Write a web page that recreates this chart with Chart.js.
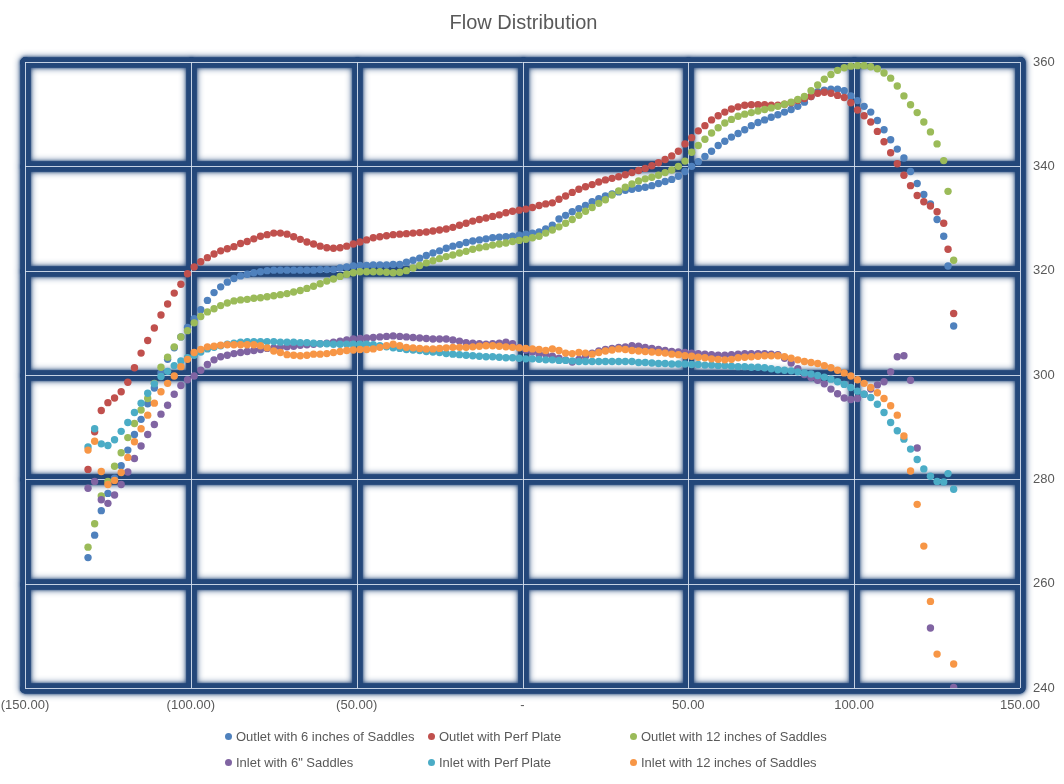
<!DOCTYPE html>
<html>
<head>
<meta charset="utf-8">
<script src="https://cdn.jsdelivr.net/npm/chart.js@4.4.0/dist/chart.umd.min.js"></script>
<style>
  body { margin: 0; background: #fff; }
  #wrap { position: relative; width: 1064px; height: 784px; background: #fff; font-family: "Liberation Sans", Arial, sans-serif; }
  #title { position: absolute; left: 0; top: 10px; width: 1064px; padding-right: 17px; box-sizing: border-box;
           text-align: center; font-size: 20px; line-height: 24px; color: #595959; }
  #legend { position: absolute; top: 723px; left: 225px; display: grid;
            grid-template-columns: 203px 202px 240px; grid-auto-rows: 26px; }
  .item { display: flex; align-items: center; font-size: 13px; color: #595959; white-space: nowrap; }
  .dot { width: 7px; height: 7px; border-radius: 50%; margin-right: 4px; flex: none; }
</style>
</head>
<body>
<div id="wrap">
  <canvas id="chart" width="1064" height="784"></canvas>
  <div id="title">Flow Distribution</div>
  <div id="legend"></div>
</div>
<script>
// positions along the duct (shared by every series)
const xValues = [
  -131,-129,-127,-125,-123,-121,-119,-117,-115,-113,
  -111,-109,-107,-105,-103,-101,-99,-97,-95,-93,
  -91,-89,-87,-85,-83,-81,-79,-77,-75,-73,
  -71,-69,-67,-65,-63,-61,-59,-57,-55,-53,
  -51,-49,-47,-45,-43,-41,-39,-37,-35,-33,
  -31,-29,-27,-25,-23,-21,-19,-17,-15,-13,
  -11,-9,-7,-5,-3,-1,1,3,5,7,
  9,11,13,15,17,19,21,23,25,27,
  29,31,33,35,37,39,41,43,45,47,
  49,51,53,55,57,59,61,63,65,67,
  69,71,73,75,77,79,81,83,85,87,
  89,91,93,95,97,99,101,103,105,107,
  109,111,113,115,117,119,121,123,125,127,
  128.3,130
];

const outlet6 = [
  265.0,269.3,274.0,277.3,280.2,282.6,285.6,288.6,291.5,294.5,
  297.5,300.4,303.0,305.2,307.3,309.1,310.8,312.5,314.3,315.8,
  316.9,317.8,318.5,319.0,319.3,319.6,319.8,320.0,320.1,320.1,
  320.1,320.1,320.1,320.1,320.1,320.2,320.2,320.2,320.5,320.7,
  320.9,321.0,321.0,321.1,321.1,321.1,321.2,321.2,321.6,322.0,
  322.4,322.9,323.4,323.8,324.3,324.7,325.0,325.4,325.7,325.9,
  326.1,326.3,326.4,326.5,326.6,326.8,327.0,327.2,327.4,328.0,
  328.7,329.9,330.6,331.3,331.9,332.5,333.2,333.8,334.3,334.7,
  335.1,335.4,335.6,335.8,336.0,336.3,336.7,337.1,337.5,338.1,
  339.0,340.0,340.9,341.9,342.9,344.0,344.8,345.6,346.3,347.0,
  347.8,348.4,348.9,349.4,349.9,350.4,350.9,351.5,352.3,353.4,
  354.3,354.6,354.8,354.8,354.5,353.5,352.6,351.5,350.4,348.8,
  347.0,345.1,343.3,341.6,339.0,336.7,334.6,332.8,329.8,326.6,
  320.9,309.4
];

const outletPerf = [
  281.9,289.1,293.2,294.7,295.6,296.8,298.6,301.4,304.2,306.6,
  309.0,311.5,313.6,315.7,317.4,319.4,320.7,321.7,322.5,323.2,
  323.8,324.2,324.6,325.2,325.6,326.1,326.6,326.9,327.2,327.2,
  327.0,326.5,326.0,325.5,325.1,324.7,324.4,324.3,324.4,324.7,
  325.1,325.5,325.9,326.3,326.5,326.7,326.9,327.0,327.1,327.2,
  327.3,327.4,327.6,327.8,328.0,328.3,328.7,329.1,329.5,329.8,
  330.1,330.4,330.7,331.1,331.4,331.6,331.8,332.1,332.5,332.8,
  333.0,333.7,334.3,335.0,335.6,336.1,336.5,337.0,337.4,337.7,
  338.0,338.4,338.8,339.2,339.6,340.1,340.7,341.3,342.0,342.9,
  344.3,345.5,346.8,347.8,348.9,349.7,350.4,351.0,351.4,351.7,
  351.8,351.8,351.8,351.7,351.7,351.9,352.2,352.6,353.0,353.4,
  354.0,354.2,354.0,353.6,353.2,352.2,350.8,349.7,348.5,346.7,
  344.7,342.6,340.5,338.3,336.3,334.4,333.2,332.4,331.3,329.1,
  324.1,311.8
];

const outlet12 = [
  267.0,271.5,276.8,279.6,282.5,285.1,288.0,290.7,293.3,295.5,
  298.4,301.5,303.4,305.4,307.3,308.5,310.0,311.2,312.1,312.7,
  313.3,313.8,314.2,314.4,314.5,314.7,314.8,315.0,315.2,315.4,
  315.6,315.9,316.2,316.6,317.0,317.5,318.0,318.4,318.9,319.3,
  319.6,319.8,319.8,319.8,319.8,319.7,319.6,319.7,320.0,320.5,
  321.0,321.5,321.9,322.3,322.7,323.0,323.4,323.7,324.1,324.4,
  324.6,324.9,325.1,325.3,325.6,325.8,326.0,326.3,326.6,327.2,
  327.8,328.4,329.1,329.8,330.6,331.4,332.1,332.9,333.6,334.5,
  335.3,336.0,336.6,337.2,337.6,337.9,338.3,338.8,339.3,340.0,
  341.0,342.7,344.0,345.2,346.4,347.4,348.3,349.0,349.6,350.0,
  350.3,350.6,350.9,351.2,351.5,351.9,352.3,352.8,353.4,354.5,
  355.6,356.7,357.6,358.4,358.9,359.2,359.3,359.3,359.1,358.7,
  357.9,356.9,355.4,353.5,351.8,350.3,348.5,346.6,344.3,341.1,
  335.2,322.0
];

const inlet6 = [
  278.3,279.6,276.1,275.4,277.0,279.0,281.4,284.0,286.4,288.6,
  290.5,292.5,294.2,296.3,298.0,299.1,299.8,300.9,302.0,302.9,
  303.5,303.8,304.1,304.3,304.5,304.7,304.9,305.1,305.2,305.3,
  305.4,305.5,305.7,305.8,305.9,306.0,306.1,306.3,306.5,306.7,
  306.9,307.0,307.1,307.2,307.3,307.4,307.5,307.4,307.3,307.2,
  307.1,307.0,306.9,306.9,306.9,306.7,306.5,306.2,306.1,306.0,
  305.9,306.0,306.1,306.3,306.0,305.3,304.8,304.4,304.0,304.0,
  303.6,303.2,302.9,302.5,303.0,303.6,304.2,304.6,304.9,305.1,
  305.3,305.4,305.6,305.5,305.3,305.1,304.9,304.7,304.5,304.4,
  304.3,304.2,304.1,304.0,303.9,303.8,303.8,303.9,304.0,304.1,
  304.1,304.1,304.1,304.0,303.9,303.2,302.3,301.2,300.1,299.5,
  299.0,298.3,297.3,296.4,295.6,295.3,295.5,296.3,297.3,298.1,
  298.7,300.6,303.5,303.7,299.0,286.0,null,251.5,null,null,
  null,240.1
];

const inletPerf = [
  286.2,289.7,286.8,286.5,287.6,289.2,290.9,292.8,294.6,296.5,
  298.3,299.7,300.7,301.8,302.7,303.3,303.8,304.4,305.0,305.3,
  305.6,305.9,306.1,306.3,306.4,306.4,306.4,306.4,306.4,306.3,
  306.3,306.3,306.2,306.2,306.1,306.0,306.0,305.9,305.9,305.9,
  305.9,305.9,305.9,305.8,305.6,305.4,305.2,305.1,304.9,304.8,
  304.7,304.5,304.4,304.3,304.1,304.0,303.9,303.8,303.7,303.6,
  303.5,303.5,303.4,303.3,303.3,303.2,303.1,303.1,303.0,302.9,
  302.9,302.8,302.8,302.7,302.6,302.6,302.6,302.6,302.6,302.6,
  302.6,302.6,302.6,302.4,302.4,302.3,302.2,302.2,302.1,302.1,
  302.1,302.0,302.0,301.9,301.9,301.8,301.8,301.7,301.6,301.6,
  301.5,301.5,301.4,301.2,301.0,300.9,300.8,300.6,300.4,300.2,
  299.9,299.6,299.2,298.7,298.2,297.6,296.9,296.3,295.7,294.4,
  292.8,290.9,289.3,287.7,285.8,283.8,282.0,280.6,279.6,279.5,
  281.1,278.1
];

const inlet12 = [
  285.6,287.3,281.5,279.0,279.8,281.3,284.2,287.2,289.7,292.3,
  294.6,296.8,298.4,299.8,301.6,303.0,304.3,304.9,305.4,305.5,
  305.7,305.8,305.8,305.8,305.8,305.8,305.6,305.2,304.6,304.3,
  303.9,303.8,303.7,303.8,304.0,304.0,304.1,304.3,304.5,304.7,
  304.8,304.9,304.9,305.0,305.3,305.6,305.9,305.6,305.3,305.2,
  305.1,305.0,305.0,305.1,305.2,305.3,305.3,305.3,305.4,305.5,
  305.6,305.6,305.5,305.4,305.3,305.2,305.1,305.0,304.9,304.7,
  305.0,304.7,304.2,304.1,304.3,304.2,304.0,304.3,304.6,304.8,
  305.0,304.9,304.7,304.6,304.5,304.4,304.3,304.2,304.0,303.9,
  303.7,303.6,303.4,303.3,303.1,303.0,302.9,303.0,303.3,303.4,
  303.5,303.6,303.7,303.7,303.7,303.5,303.2,302.9,302.6,302.4,
  302.2,301.8,301.4,300.9,300.4,299.8,299.1,298.4,297.6,296.6,
  295.5,294.1,292.3,288.3,281.6,275.2,267.2,256.6,246.5,null,
  null,244.6
];

const seriesNames = [
  'Outlet with 6 inches of Saddles', 'Outlet with Perf Plate', 'Outlet with 12 inches of Saddles',
  'Inlet with 6" Saddles', 'Inlet with Perf Plate', 'Inlet with 12 inches of Saddles'
];
const seriesValues = [outlet6, outletPerf, outlet12, inlet6, inletPerf, inlet12];
const seriesColors = ['#4F81BD', '#C0504D', '#9BBB59', '#8064A2', '#4BACC6', '#F79646'];

const xTicks = [-150, -100, -50, 0, 50, 100, 150];
const yTicks = [240, 260, 280, 300, 320, 340, 360];

function money(v) {
  if (v === 0) return '-';
  if (v < 0) return '(' + Math.abs(v).toFixed(2) + ')';
  return v.toFixed(2);
}

// thick navy gridlines with a soft glow and a thin light centre line
const glowGrid = {
  id: 'glowGrid',
  beforeDatasetsDraw(chart) {
    const { ctx, chartArea: a, scales } = chart;
    const xs = xTicks.map(v => Math.round(scales.x.getPixelForValue(v)));
    const ys = yTicks.map(v => Math.round(scales.y.getPixelForValue(v)));
    const path = () => {
      ctx.beginPath();
      xs.forEach(px => { ctx.moveTo(px + 0.5, a.top); ctx.lineTo(px + 0.5, a.bottom); });
      ys.forEach(py => { ctx.moveTo(a.left, py + 0.5); ctx.lineTo(a.right, py + 0.5); });
    };
    ctx.save();
    ctx.lineCap = 'round';
    ctx.strokeStyle = '#23477a';
    ctx.lineWidth = 10;
    ctx.shadowColor = 'rgba(35,71,122,1)';
    ctx.shadowBlur = 7;
    path();
    ctx.stroke();
    ctx.shadowBlur = 3;
    ctx.stroke();
    ctx.shadowBlur = 0;
    ctx.shadowColor = 'transparent';
    ctx.lineCap = 'butt';
    ctx.lineWidth = 1;
    ctx.strokeStyle = 'rgba(214,224,238,0.9)';
    path();
    ctx.stroke();
    ctx.restore();
  }
};

const datasets = seriesNames.map((name, i) => ({
  label: name,
  data: xValues.map((x, j) => ({ x: x, y: seriesValues[i][j] })).filter(p => p.y !== null),
  backgroundColor: seriesColors[i],
  borderWidth: 0,
  pointRadius: 3.7,
  order: seriesNames.length - i
}));

const tickFont = { family: '"Liberation Sans", Arial, sans-serif', size: 13 };

new Chart(document.getElementById('chart'), {
  type: 'scatter',
  data: { datasets: datasets },
  options: {
    responsive: false,
    devicePixelRatio: 1,
    animation: false,
    events: [],
    layout: { padding: { top: 62, left: 25, right: 0, bottom: 66 } },
    plugins: { legend: { display: false }, title: { display: false }, tooltip: { enabled: false } },
    scales: {
      x: {
        type: 'linear', position: 'bottom', min: -150, max: 150,
        afterBuildTicks: s => { s.ticks = xTicks.map(v => ({ value: v })); },
        afterFit: s => { s.height = 30; s.paddingLeft = 0; s.paddingRight = 0; },
        grid: { display: false, drawTicks: false },
        border: { display: false },
        ticks: { padding: 10, maxRotation: 0, autoSkip: false, color: '#595959', font: tickFont, callback: v => money(v) }
      },
      y: {
        type: 'linear', position: 'right', min: 240, max: 360,
        afterBuildTicks: s => { s.ticks = yTicks.map(v => ({ value: v })); },
        afterFit: s => { s.width = 44; s.paddingTop = 0; s.paddingBottom = 0; },
        grid: { display: false, drawTicks: false },
        border: { display: false },
        ticks: { padding: 13, color: '#595959', font: tickFont, callback: v => String(v) }
      }
    }
  },
  plugins: [glowGrid]
});

// legend laid out in three aligned columns
const legend = document.getElementById('legend');
seriesNames.forEach((name, i) => {
  const item = document.createElement('div');
  item.className = 'item';
  const dot = document.createElement('span');
  dot.className = 'dot';
  dot.style.background = seriesColors[i];
  item.appendChild(dot);
  item.appendChild(document.createTextNode(name));
  legend.appendChild(item);
});
</script>
</body>
</html>
